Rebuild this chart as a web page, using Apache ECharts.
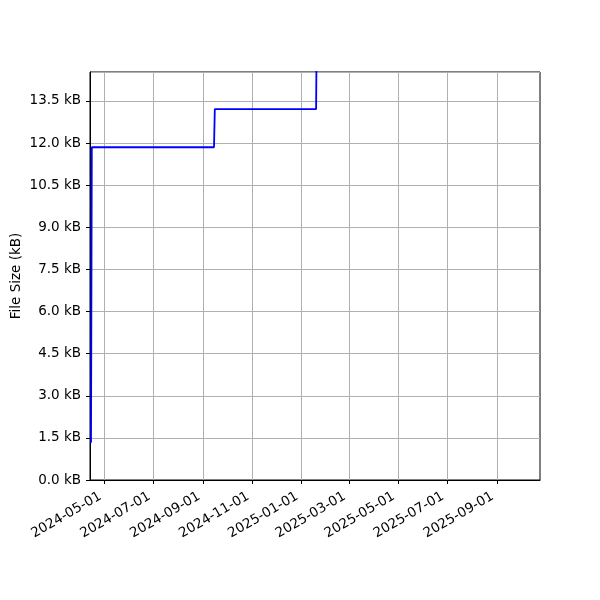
<!DOCTYPE html>
<html>
<head>
<meta charset="utf-8">
<script src="https://cdn.jsdelivr.net/npm/echarts@6/dist/echarts.min.js"></script>
<style>html,body{margin:0;padding:0;background:#fff}#c{width:600px;height:600px}</style>
</head>
<body>
<div id="c"></div>
<script>
// Data
const dates = ['2024-04-14', '2024-04-15', '2024-09-14', '2024-09-15', '2025-01-19', '2025-01-20'];
const sizesKB = [1.33, 11.85, 11.85, 13.21, 13.21, 17.0];
const xTickDates = ['2024-05-01', '2024-07-01', '2024-09-01', '2024-11-01', '2025-01-01', '2025-03-01', '2025-05-01', '2025-07-01', '2025-09-01'];
const xRange = ['2024-04-12T18:00:00', '2025-10-24T12:00:00'];
const yMin = 0, yMax = 14.53, yStep = 1.5;
const yTitle = 'File Size (kB)';

function t(s) { return +new Date(s.indexOf('T') > 0 ? s : s + 'T00:00:00'); }
function pad(n) { return (n < 10 ? '0' : '') + n; }
function fmtDate(v) { const d = new Date(v); return d.getFullYear() + '-' + pad(d.getMonth() + 1) + '-' + pad(d.getDate()); }

const tickVals = xTickDates.map(t);
const seriesData = dates.map((d, i) => [t(d), sizesKB[i]]);
const FONT = 'DejaVu Sans';
const FS = 13.5;

const chart = echarts.init(document.getElementById('c'), null, { renderer: 'canvas' });
chart.setOption({
  animation: false,
  backgroundColor: '#fff',
  grid: { left: 90, right: 60, top: 72, bottom: 120, show: true, borderColor: '#000', borderWidth: 1, backgroundColor: 'transparent', containLabel: false, outerBoundsMode: 'none' },
  xAxis: {
    type: 'value',
    min: t(xRange[0]), max: t(xRange[1]),
    axisLine: { show: true, lineStyle: { color: '#000', width: 1 } },
    axisTick: { show: true, customValues: tickVals, length: 4, lineStyle: { color: '#000', width: 1 } },
    axisLabel: { customValues: tickVals, formatter: v => fmtDate(v), rotate: 30, margin: 13, padding: [0, 5, 0, 0], color: '#000', fontFamily: FONT, fontSize: FS, hideOverlap: false },
    splitLine: { show: true, lineStyle: { color: '#b0b0b0', width: 1 } }
  },
  yAxis: {
    type: 'value',
    min: yMin, max: yMax, interval: yStep,
    name: yTitle, nameLocation: 'middle', nameGap: 67, nameMoveOverlap: false,
    nameTextStyle: { color: '#000', fontFamily: FONT, fontSize: FS },
    axisLine: { show: true, lineStyle: { color: '#000', width: 1 } },
    axisTick: { show: true, length: 4, lineStyle: { color: '#000', width: 1 } },
    axisLabel: { showMaxLabel: false, formatter: v => v.toFixed(1) + ' kB', margin: 9, color: '#000', fontFamily: FONT, fontSize: FS },
    splitLine: { show: true, lineStyle: { color: '#b0b0b0', width: 1 } }
  },
  series: [{
    type: 'line',
    data: seriesData,
    showSymbol: false,
    clip: true,
    lineStyle: { color: '#0000ff', width: 1.8 },
    itemStyle: { color: '#0000ff' }
  }]
});
</script>
</body>
</html>
